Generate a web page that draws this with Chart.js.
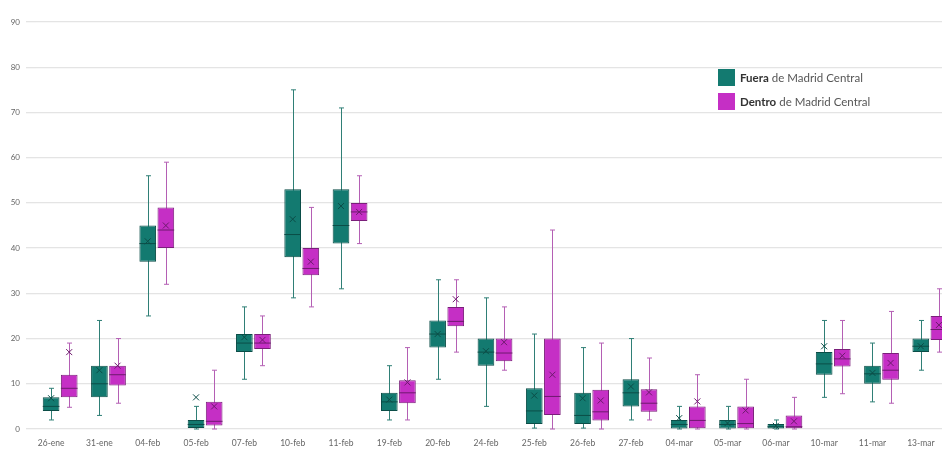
<!DOCTYPE html>
<html>
<head>
<meta charset="utf-8">
<script src="https://cdn.jsdelivr.net/npm/chart.js@4/dist/chart.umd.min.js"></script>
<style>
  body { margin: 0; background: #fff; overflow: hidden; }
  #wrap { position: relative; width: 960px; height: 451px; }
  #legend { position: absolute; left: 718px; top: 65px; font-family: Lato, "Open Sans", sans-serif; font-size: 11.5px; color: #555; }
  #legend div { display: flex; align-items: center; height: 24px; }
  #legend span.sw { display: inline-block; width: 17px; height: 17px; margin-right: 5px; }
  #legend b { color: #333; margin-right: 3px; }
</style>
</head>
<body>
<div id="wrap">
  <canvas id="chartBox" width="960" height="451"></canvas>
  <div id="legend">
    <div><span class="sw" style="background:#137a70"></span><b>Fuera</b>de Madrid Central</div>
    <div><span class="sw" style="background:#c52fc5"></span><b>Dentro</b>de Madrid Central</div>
  </div>
</div>
<script>
const dias = ['26-ene', '31-ene', '04-feb', '05-feb', '07-feb', '10-feb', '11-feb', '19-feb', '20-feb', '24-feb',
  '25-feb', '26-feb', '27-feb', '04-mar', '05-mar', '06-mar', '10-mar', '11-mar', '13-mar']

// Fuera de Madrid Central
const fueraMin = [2, 3, 25, 0, 11, 29, 31, 2, 11, 5, 0.2, 0.2, 2, 0, 0, 0, 7, 6, 13]
const fueraQ1 = [4, 7, 37, 0.2, 17, 38, 41, 4, 18, 14, 1.1, 1.1, 5, 0.1, 0.1, 0.1, 12, 10, 17]
const fueraMed = [5, 10, 41, 1, 19, 43, 45, 6, 21, 17, 4, 3, 8, 1, 1, 0.5, 14.4, 12.2, 18.3]
const fueraQ3 = [7, 14, 45, 2, 21, 53, 53, 8, 24, 20, 9, 8, 11, 2, 2, 1.1, 17, 14, 20]
const fueraMax = [9, 24, 56, 5, 27, 75, 71, 14, 33, 29, 21, 18, 20, 5, 5, 2, 24, 19, 24]
const fueraMean = [6.8, 13, 41.5, 7, 20.3, 46.4, 49.3, 6.5, 21, 17.2, 7.4, 6.8, 9.4, 2.4, 1.3, 0.7, 18.3, 12.4, 18.3]

// Dentro de Madrid Central
const dentroMin = [4.8, 5.7, 32, 0, 14, 27, 41, 2, 17, 13, 0, 0, 2, 0, 0, 0, 7.8, 5.7, 17]
const dentroQ1 = [7, 9.6, 40, 0.8, 17.7, 34, 46, 5.7, 22.7, 15, 3.1, 1.9, 3.8, 0, 0, 0, 13.8, 10.9, 19.7]
const dentroMed = [9, 12, 44, 1.7, 19, 35.5, 48, 8, 23.8, 16.8, 7.2, 3.8, 5.7, 1.9, 1.2, 0.5, 15.5, 13, 22]
const dentroQ3 = [12, 14, 49, 6, 21, 40, 50, 10.8, 27, 20, 20, 8.7, 8.8, 5, 5, 3, 17.7, 16.8, 25]
const dentroMax = [19, 20, 59, 13, 25, 49, 56, 18, 33, 27, 44, 19, 15.7, 12, 11, 7, 24, 26, 31]
const dentroMean = [17, 14, 45, 5, 19.7, 37, 48, 10.3, 28.7, 19.2, 12, 6.3, 8.1, 6.1, 4.1, 1.7, 16.2, 14.6, 23]

const extras = [
    { min: fueraMin, max: fueraMax, med: fueraMed, mean: fueraMean, whisker: '#2f7f76', dark: '#0b4d47' },
    { min: dentroMin, max: dentroMax, med: dentroMed, mean: dentroMean, whisker: '#b45fb4', dark: '#6e1a6e' }
]

const boxPlugin = {
    id: 'boxPlugin',
    beforeDatasetsDraw(chart) {
        const ctx = chart.ctx, y = chart.scales.y;
        extras.forEach(function (e, i) {
            chart.getDatasetMeta(i).data.forEach(function (bar, j) {
                const x = Math.round(bar.x) + 0.5;
                const top = y.getPixelForValue(e.max[j]);
                const bot = y.getPixelForValue(e.min[j]);
                ctx.save();
                ctx.strokeStyle = e.whisker;
                ctx.lineWidth = 1;
                ctx.beginPath();
                ctx.moveTo(x, top); ctx.lineTo(x, bot);
                ctx.moveTo(x - 2.5, top); ctx.lineTo(x + 2.5, top);
                ctx.moveTo(x - 2.5, bot); ctx.lineTo(x + 2.5, bot);
                ctx.stroke();
                ctx.restore();
            });
        });
    },
    afterDatasetsDraw(chart) {
        const ctx = chart.ctx, y = chart.scales.y;
        extras.forEach(function (e, i) {
            chart.getDatasetMeta(i).data.forEach(function (bar, j) {
                const x = bar.x, w = bar.width;
                const ym = y.getPixelForValue(e.med[j]);
                const ya = y.getPixelForValue(e.mean[j]);
                ctx.save();
                ctx.strokeStyle = e.dark;
                ctx.lineWidth = 1;
                ctx.beginPath();
                ctx.moveTo(x - w / 2, ym); ctx.lineTo(x + w / 2, ym);
                ctx.moveTo(x - 3, ya - 3); ctx.lineTo(x + 3, ya + 3);
                ctx.moveTo(x - 3, ya + 3); ctx.lineTo(x + 3, ya - 3);
                ctx.stroke();
                ctx.restore();
            });
        });
    }
};

var ctxBox = document.getElementById('chartBox').getContext('2d');
var chartBox = new Chart(ctxBox, {
    type: 'bar',
    data: {
        labels: dias,
        datasets: [
            {
                label: 'Fuera de Madrid Central',
                data: fueraQ1.map(function (v, i) { return [v, fueraQ3[i]]; }),
                backgroundColor: '#137a70',
                borderColor: '#0b4d47',
                borderWidth: 1,
                borderSkipped: false,
                categoryPercentage: 0.75,
                barPercentage: 0.92
            },
            {
                label: 'Dentro de Madrid Central',
                data: dentroQ1.map(function (v, i) { return [v, dentroQ3[i]]; }),
                backgroundColor: '#c52fc5',
                borderColor: '#7a1f7a',
                borderWidth: 1,
                borderSkipped: false,
                categoryPercentage: 0.75,
                barPercentage: 0.92
            }
        ]
    },
    options: {
        responsive: false,
        animation: false,
        layout: { padding: { top: 22, right: 6, bottom: 2, left: 0 } },
        plugins: { legend: { display: false }, tooltip: { enabled: false } },
        scales: {
            x: {
                grid: { display: false, drawTicks: false },
                border: { display: false },
                ticks: { color: '#666', font: { family: 'Lato', size: 8.5 }, padding: 9, labelOffset: -9, maxRotation: 0, autoSkip: false },
                afterFit: function (scale) { scale.height = 20; }
            },
            y: {
                min: 0,
                max: 90,
                ticks: { stepSize: 10, color: '#666', font: { family: 'Lato', size: 8 }, padding: 6 },
                grid: { color: '#e4e4e4', lineWidth: 1.3, tickLength: 10 },
                border: { display: false },
                afterFit: function (scale) { scale.width = 36; }
            }
        }
    },
    plugins: [boxPlugin]
});
</script>
</body>
</html>
